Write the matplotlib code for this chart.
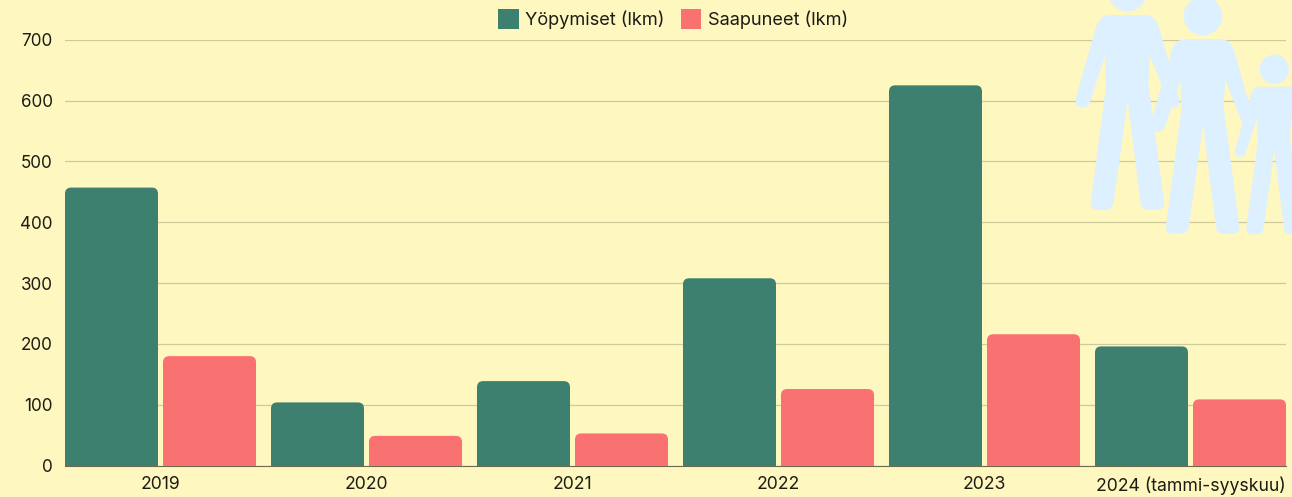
import matplotlib
matplotlib.use('Agg')
import matplotlib.pyplot as plt
from matplotlib.patches import FancyBboxPatch, PathPatch, Circle, Patch
from matplotlib.path import Path

years = ['2019', '2020', '2021', '2022', '2023', '2024 (tammi-syyskuu)']
yopymiset = [457, 104, 139, 308, 625, 196]
saapuneet = [180, 49, 53, 126, 216, 109]

BG = '#fef7c0'
GREEN = '#3d8070'
RED = '#f97171'
GRID = '#cfca9c'
TEXT = '#1c1c14'
PERSON = '#ddf0ff'

plt.rcParams['font.family'] = ['Inter', 'DejaVu Sans']
plt.rcParams['font.size'] = 12.7

W, H = 1292, 497
fig = plt.figure(figsize=(W / 100, H / 100), dpi=100, facecolor=BG)
ax = fig.add_axes([65 / W, (H - 465.7) / H, 1221 / W, 426 / H], facecolor=BG)

bar_w = 0.4515
offset = 0.2379
ax.set_xlim(-0.4636, 5.4636)
ax.set_ylim(0, 700)

# x radius in data units, y radius comes from the aspect
rad = 0.03
aspect = (6.2 / 0.6086) / rad


def rounded_bar(x, val, color):
    # start below zero so only the top corners look rounded (axes clip the rest)
    p = FancyBboxPatch((x - bar_w / 2, -30), bar_w, val + 30,
                       boxstyle=f'round,pad=0,rounding_size={rad}',
                       mutation_aspect=aspect, fc=color, ec='none', zorder=3)
    ax.add_patch(p)


for i, (a, b) in enumerate(zip(yopymiset, saapuneet)):
    rounded_bar(i - offset, a, GREEN)
    rounded_bar(i + offset, b, RED)

ax.set_yticks(range(0, 701, 100))
ax.set_xticks(range(len(years)))
ax.set_xticklabels(years)
ax.tick_params(axis='y', length=0, pad=9, colors=TEXT, labelsize=12.3)
ax.tick_params(axis='x', length=0, pad=7.5, colors=TEXT)
ax.grid(axis='y', color=GRID, lw=0.9)
ax.set_axisbelow(True)
for s in ['top', 'left', 'right']:
    ax.spines[s].set_visible(False)
ax.spines['bottom'].set_color('#6e6a50')
ax.spines['bottom'].set_linewidth(0.8)
ax.spines['bottom'].set_zorder(2)

handles = [Patch(fc=GREEN, label='Yöpymiset (lkm)'), Patch(fc=RED, label='Saapuneet (lkm)')]
fig.legend(handles=handles, loc='center', bbox_to_anchor=(673 / W, 1 - 19 / H), ncol=2,
           frameon=False, fontsize=13.1, handlelength=1.12, handleheight=1.35, handletextpad=0.34,
           columnspacing=0.93, labelcolor=TEXT)

# decorative family, pixel coords of the image
deco = fig.add_axes([0, 0, 1, 1], facecolor='none', zorder=5)
deco.set_xlim(0, W)
deco.set_ylim(H, 0)
deco.axis('off')

M, L, Q, C = Path.MOVETO, Path.LINETO, Path.CURVE3, Path.CLOSEPOLY
outline = [
    (M, -53, 0), (L, 52, 0), (Q, 85, 0), (Q, 95, 40), (L, 154, 250), (Q, 160, 278), (Q, 137, 278),
    (Q, 125, 278), (Q, 119, 255), (L, 67, 123), (L, 62, 205), (L, 109, 560), (Q, 112, 585), (Q, 85, 585),
    (L, 60, 585), (Q, 40, 585), (Q, 38, 560), (L, 0, 255), (L, -42, 560), (Q, -44, 585), (Q, -70, 585),
    (L, -90, 585), (Q, -112, 585), (Q, -111, 560), (L, -65, 215), (L, -68, 123), (L, -113, 260),
    (Q, -118, 278), (Q, -135, 278), (Q, -160, 278), (Q, -156, 250), (L, -96, 40), (Q, -85, 0), (Q, -53, 0),
    (C, -53, 0),
]


def person(cx, top, scale):
    k = scale / 3
    verts = [(cx + x * k, top + y * k) for _, x, y in outline]
    codes = [c for c, _, _ in outline]
    deco.add_patch(PathPatch(Path(verts, codes), fc=PERSON, ec='none'))
    deco.add_patch(Circle((cx, top - 69 * k), 58 * k, fc=PERSON, ec='none'))


person(1127.7, 15, 1)
person(1203, 39, 1)
person(1274.3, 86.7, 0.757)

fig.savefig('out.png', dpi=100, facecolor=BG)
